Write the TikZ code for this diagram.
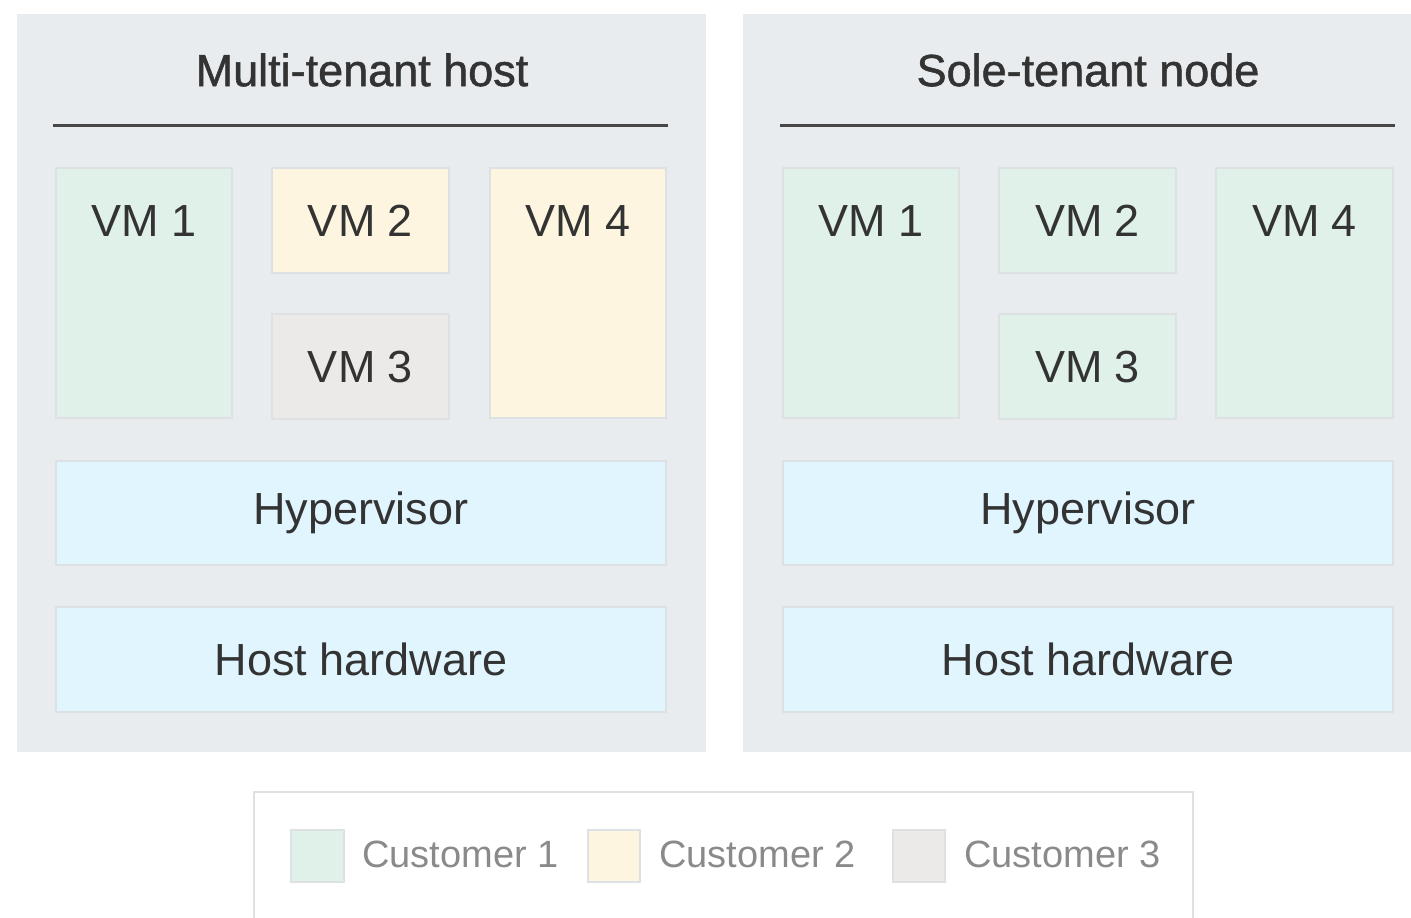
\documentclass[tikz,border=0pt]{standalone}
\usepackage{fontspec}
\setmainfont{Liberation Sans}
\newfontfamily\titlefont[FakeBold=1.2]{Liberation Sans}
\definecolor{panelbg}{HTML}{E8ECEF}
\definecolor{cgreen}{HTML}{DFF1E9}
\definecolor{cyellow}{HTML}{FDF5DF}
\definecolor{cgrey}{HTML}{ECEAE8}
\definecolor{cblue}{HTML}{E1F5FE}
\definecolor{boxline}{HTML}{DEE1E3}
\definecolor{txt}{HTML}{333333}
\definecolor{legtxt}{HTML}{8A8A8A}
\begin{document}
\begin{tikzpicture}[x=0.5pt,y=-0.5pt,
  panel/.style={fill=panelbg,draw=none},
  vmbox/.style={draw=boxline,line width=1.2pt},
  lbl/.style={text=txt,font=\fontsize{22.5}{26}\selectfont,inner sep=0pt},
  ttl/.style={text=txt,font=\titlefont\fontsize{22.5}{27}\selectfont,inner sep=0pt},
  legtext/.style={text=legtxt,font=\fontsize{19}{23}\selectfont,inner sep=0pt,anchor=west},
  rule/.style={draw=txt!90,line width=1.5pt}]
\useasboundingbox (0,0) rectangle (1411,917);
% panels
\fill[panel] (17,14) rectangle (706,752);
\fill[panel] (743,14) rectangle (1411,752);
% left panel
\node[ttl] (t1) at (362,70) {Multi-tenant host};
\coordinate (l1a) at (53,125); \coordinate (l1b) at (668,125);
\draw[rule] (l1a) -- (l1b);
\draw[vmbox,fill=cgreen] (56,168) rectangle (232,418);
\node[lbl] (a1) at (144,221) {VM 1};
\draw[vmbox,fill=cyellow] (272,168) rectangle (449,273);
\node[lbl] (a2) at (360.5,221) {VM 2};
\draw[vmbox,fill=cgrey] (272,314) rectangle (449,419);
\node[lbl] (a3) at (360.5,367) {VM 3};
\draw[vmbox,fill=cyellow] (490,168) rectangle (666,418);
\node[lbl] (a4) at (578,221) {VM 4};
\draw[vmbox,fill=cblue] (56,461) rectangle (666,565);
\node[lbl] (ah) at (361,513) {Hypervisor};
\draw[vmbox,fill=cblue] (56,607) rectangle (666,712);
\node[lbl] (aw) at (361,659) {Host hardware};
% right panel
\node[ttl] (t2) at (1088,70) {Sole-tenant node};
\coordinate (l2a) at (780,125); \coordinate (l2b) at (1395,125);
\draw[rule] (l2a) -- (l2b);
\draw[vmbox,fill=cgreen] (783,168) rectangle (959,418);
\node[lbl] (b1) at (871,221) {VM 1};
\draw[vmbox,fill=cgreen] (999,168) rectangle (1176,273);
\node[lbl] (b2) at (1087.5,221) {VM 2};
\draw[vmbox,fill=cgreen] (999,314) rectangle (1176,419);
\node[lbl] (b3) at (1087.5,367) {VM 3};
\draw[vmbox,fill=cgreen] (1216,168) rectangle (1393,418);
\node[lbl] (b4) at (1304.5,221) {VM 4};
\draw[vmbox,fill=cblue] (783,461) rectangle (1393,565);
\node[lbl] (bh) at (1088,513) {Hypervisor};
\draw[vmbox,fill=cblue] (783,607) rectangle (1393,712);
\node[lbl] (bw) at (1088,659) {Host hardware};
% legend
\draw[draw=boxline,line width=1pt] (254,930) -- (254,792) -- (1193,792) -- (1193,930);
\draw[vmbox,fill=cgreen] (291,830) rectangle (344,882);
\node[legtext] (c1) at (362,854) {Customer 1};
\draw[vmbox,fill=cyellow] (588,830) rectangle (640,882);
\node[legtext] (c2) at (659,854) {Customer 2};
\draw[vmbox,fill=cgrey] (893,830) rectangle (945,882);
\node[legtext] (c3) at (964,854) {Customer 3};
\end{tikzpicture}
\end{document}
